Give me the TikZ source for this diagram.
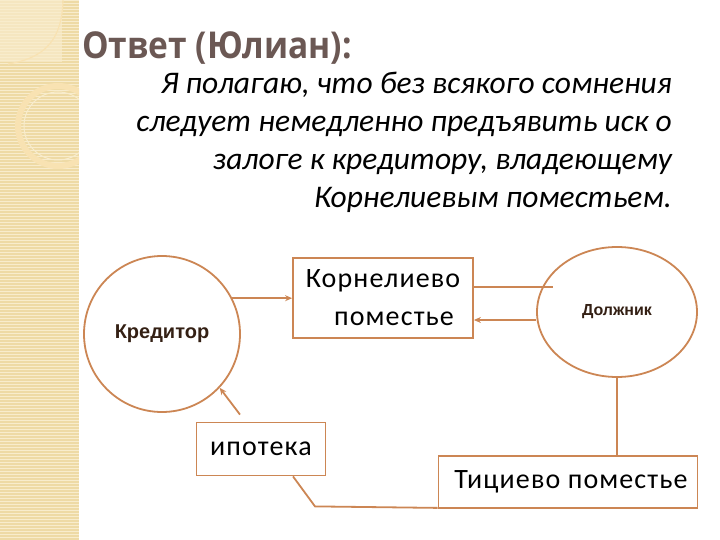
\documentclass[tikz,border=0pt]{standalone}
\usepackage{fontspec}
\setmainfont{Carlito}
\newfontfamily\titlefont{Open Sans}
\newfontfamily\labelfont{Liberation Sans}
\newfontfamily\boxfont[LetterSpace=4]{Carlito}
\usepackage{tikz}
\usetikzlibrary{arrows.meta,positioning,shapes.geometric}
\usepackage{xcolor}
\definecolor{edgebrown}{RGB}{204,134,84}
\definecolor{titlegrey}{RGB}{107,88,84}
\definecolor{labelbrown}{RGB}{52,32,20}
\definecolor{stripbase}{RGB}{238,218,165}
\definecolor{stripline}{RGB}{248,236,204}
\definecolor{ringcream}{RGB}{248,226,178}

\begin{document}
\begin{tikzpicture}[x=1pt, y=-1pt,
    estate/.style={rectangle, draw=edgebrown, line width=1.8pt, fill=white,
        inner sep=0pt, font=\boxfont\fontsize{28}{38}\selectfont},
    party/.style={draw=edgebrown, line width=1.8pt, fill=white, inner sep=0pt,
        text=labelbrown},
    link/.style={draw=edgebrown, line width=1.8pt},
    >={Stealth[length=7pt, width=6pt]}
]
\useasboundingbox (0,0) rectangle (720,540);
\fill[white] (0,0) rectangle (720,540);

% decorative strip on the left
\begin{scope}
\clip (0,0) rectangle (79,540);
\fill[stripbase] (0,0) rectangle (79,540);
\foreach \y in {0,3,...,540}
    \draw[stripline, line width=0.9pt] (0,\y) -- (79,\y);
\fill[stripline, opacity=0.7] (0,0) rectangle (62,62);
\draw[ringcream, line width=1.2pt] (63,0) .. controls (62,40) and (45,58) .. (8,64);
\draw[ringcream, line width=6pt] (58,126) circle[radius=40];
\draw[stripline, line width=1pt] (58,126) circle[radius=34];
\end{scope}

% title and answer
\node[anchor=base west, inner sep=0pt, text=titlegrey,
      font=\titlefont\bfseries\fontsize{37}{40}\selectfont] (title) at (82,59)
    {\scalebox{0.905}[1]{Ответ (Юлиан):}};
\node[anchor=north east, inner sep=0pt, align=right,
      font=\itshape\fontsize{31.5}{38}\selectfont] (answer) at (672,72)
    {Я полагаю, что без всякого сомнения\\
     следует немедленно предъявить иск о\\
     залоге к кредитору, владеющему\\
     Корнелиевым поместьем.};

% parties and estates
\node[party, circle, minimum size=156pt,
      font=\labelfont\bfseries\fontsize{20}{24}\selectfont] (kred) at (162,334) {Кредитор};
\node[party, ellipse, minimum width=160pt, minimum height=130pt,
      font=\labelfont\bfseries\fontsize{16}{18}\selectfont] (dolzh) at (617,312) {Должник};
\node[estate, minimum width=180pt, minimum height=80pt, align=center] (korn) at (383,298)
    {Корнелиево\\ \hspace*{22pt}поместье};
\node[estate, minimum width=129pt, minimum height=53pt] (ipo) at (261,449) {ипотека};
\node[estate, minimum width=259pt, minimum height=52pt] (tiz) at (568,482)
    {\hspace*{6pt}Тициево поместье};

% connectors
\draw[link, ->] (kred.27) -- (kred.27 -| korn.west);
\draw[link] ([yshift=11pt]korn.east) -- +(79,0);
\draw[link, ->] ([yshift=-22pt]korn.east -| dolzh.west) -- ([yshift=-22pt]korn.east);
\draw[link] (dolzh.south) -- (tiz.north -| dolzh.south);
\draw[link] ([xshift=32pt]ipo.south) -- ++(22,30) -- ([yshift=1pt]tiz.south west);
\draw[link, ->] ([xshift=-21pt,yshift=7pt]ipo.north) -- (kred.-43);
\end{tikzpicture}
\end{document}
